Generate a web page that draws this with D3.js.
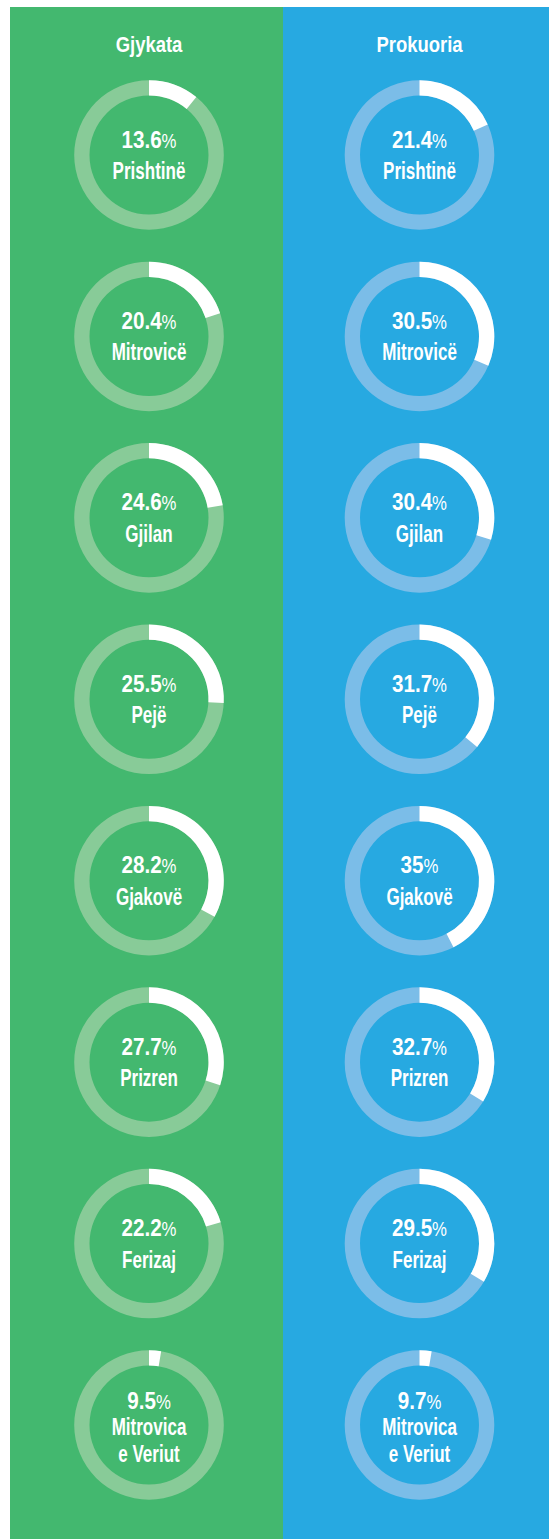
<!DOCTYPE html>
<html>
<head>
<meta charset="utf-8">
<script src="https://cdn.jsdelivr.net/npm/d3@7"></script>
<style>
  html, body { margin: 0; padding: 0; background: #fff; }
  svg { display: block; }
  text { fill: #fff; font-family: "Liberation Sans", Arial, sans-serif; font-weight: bold; }
  .pct-sign { font-weight: normal; }
</style>
</head>
<body>
<div id="content"></div>
<script>
// data
const CITIES = ['Prishtinë', 'Mitrovicë', 'Gjilan', 'Pejë', 'Gjakovë', 'Prizren', 'Ferizaj', 'Mitrovica\ne Veriut'];
const GROUPS = ['Gjykata', 'Prokuoria'];
// printed percentages
const GJYKATA = [13.6, 20.4, 24.6, 25.5, 28.2, 27.7, 22.2, 9.5];
const PROKUORIA = [21.4, 30.5, 30.4, 31.7, 35, 32.7, 29.5, 9.7];
// share of the ring that is drawn white (it does not follow the labels)
const GJYKATA_ARC = [10.9, 20, 22.3, 25.8, 33, 30, 20.4, 2.6];
const PROKUORIA_ARC = [18.3, 31.4, 29.7, 36, 42.5, 33.8, 33.5, 2.6];

const COLORS = {
    'Gjykata': {bg: '#43b86f', ring: '#88cb98'},
    'Prokuoria': {bg: '#27a9e1', ring: '#7bbde8'},
};

var width = 549;
var height = 1539;

var svg = d3.select('#content')
.append('svg')
.attr('width', width)
.attr('height', height);

// panel edges and column centres
var xPanel = d3.scaleBand()
.domain(GROUPS)
.range([10, 556]);

var xCenter = d3.scalePoint()
.domain(GROUPS)
.range([149, 419.5]);

var yCenter = d3.scalePoint()
.domain(CITIES)
.range([155, 1425]);

var angle = d3.scaleLinear()
.domain([0, 100])
.range([0, 2 * Math.PI]);

var arc = d3.arc()
.innerRadius(59.5)
.outerRadius(74.8);

svg.selectAll('.panel')
.data(GROUPS)
.enter()
.append('rect')
.attr('class', 'panel')
.attr('x', function (g) {return xPanel(g)})
.attr('y', 7)
.attr('width', function (g) {return Math.min(xPanel.bandwidth(), width - xPanel(g))})
.attr('height', height - 7)
.attr('fill', function (g) {return COLORS[g].bg});

svg.selectAll('.group-title')
.data(GROUPS)
.enter()
.append('text')
.attr('class', 'group-title')
.attr('transform', function (g) {return 'translate(' + xCenter(g) + ',52) scale(0.84,1)'})
.attr('text-anchor', 'middle')
.style('font-size', '22px')
.text(function (g) {return g});

var fmt = d3.format('.1~f');

GROUPS.forEach(function (group) {
    var values = group === 'Gjykata' ? GJYKATA : PROKUORIA;
    var arcs = group === 'Gjykata' ? GJYKATA_ARC : PROKUORIA_ARC;
    var rows = CITIES.map(function (c, i) {return {city: c, value: values[i], arc: arcs[i]}});

    var cell = svg.selectAll('.cell-' + group)
    .data(rows)
    .enter()
    .append('g')
    .attr('class', 'cell-' + group)
    .attr('transform', function (d) {return 'translate(' + xCenter(group) + ',' + yCenter(d.city) + ')'});

    cell.append('path')
    .attr('d', arc({startAngle: 0, endAngle: 2 * Math.PI}))
    .attr('fill', COLORS[group].ring);

    cell.append('path')
    .attr('d', function (d) {return arc({startAngle: 0, endAngle: angle(d.arc)})})
    .attr('fill', '#fff');

    var pct = cell.append('text')
    .attr('text-anchor', 'middle')
    .attr('transform', function (d) {
        var y = d.city.indexOf('\n') >= 0 ? -15.7 : -7.4;
        return 'translate(0,' + y + ') scale(0.86,1)';
    })
    .style('font-size', '24px');
    pct.append('tspan').text(function (d) {return fmt(d.value)});
    pct.append('tspan').attr('class', 'pct-sign').style('font-size', '19.5px').text('%');

    cell.each(function (d) {
        var lines = d.city.split('\n');
        var g = d3.select(this);
        var first = lines.length > 1 ? 10.3 : 24;
        lines.forEach(function (line, k) {
            g.append('text')
            .attr('text-anchor', 'middle')
            .attr('transform', 'translate(0,' + (first + k * 26.7) + ') scale(0.74,1)')
            .style('font-size', '23px')
            .text(line);
        });
    });
});
</script>
</body>
</html>
